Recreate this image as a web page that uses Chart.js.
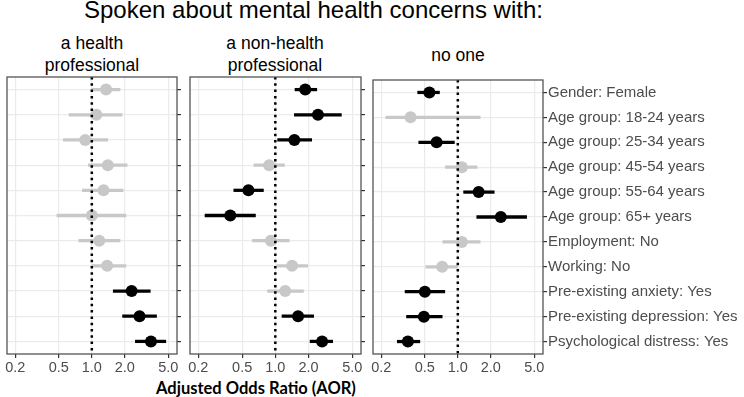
<!DOCTYPE html>
<html>
<head>
<meta charset="utf-8">
<script src="https://cdn.jsdelivr.net/npm/chart.js@4.4.0/dist/chart.umd.min.js"></script>
<style>
  body { margin: 0; background: #fff; width: 744px; height: 397px; overflow: hidden; position: relative;
         font-family: "Liberation Sans", Arial, sans-serif; }
  .txt { position: absolute; text-align: center; color: #000; white-space: nowrap; }
  canvas { position: absolute; }
</style>
</head>
<body>
<div class="txt" id="mainTitle" style="left:84px;width:400px;top:-2px;font-size:24px;line-height:24px;">Spoken about mental health concerns with:</div>
<div class="txt" style="left:2px;width:180px;top:32px;font-size:17.5px;line-height:22px;">a health<br>professional</div>
<div class="txt" style="left:185px;width:180px;top:32px;font-size:17.5px;line-height:22px;">a non-health<br>professional</div>
<div class="txt" style="left:368px;width:180px;top:44px;font-size:17.5px;line-height:22px;">no one</div>
<div class="txt" style="left:156px;width:200px;top:378px;font-size:16.5px;line-height:20px;font-family:Lato,'Open Sans',sans-serif;font-weight:bold;">Adjusted Odds Ratio (AOR)</div>

<canvas id="c1" width="185" height="304" style="left:0px;top:70px;width:185px;height:304px"></canvas>
<canvas id="c2" width="186" height="304" style="left:183px;top:70px;width:186px;height:304px"></canvas>
<canvas id="c3" width="378" height="304" style="left:366px;top:70px;width:378px;height:304px"></canvas>

<script>
// categories (top to bottom)
const categories = [
    'Gender: Female',
    'Age group: 18-24 years',
    'Age group: 25-34 years',
    'Age group: 45-54 years',
    'Age group: 55-64 years',
    'Age group: 65+ years',
    'Employment: No',
    'Working: No',
    'Pre-existing anxiety: Yes',
    'Pre-existing depression: Yes',
    'Psychological distress: Yes'
];

// x axis ticks (log scale)
const xTicks = [0.2, 0.5, 1, 2, 5];

// a health professional
const healthAor  = [1.35, 1.10, 0.87, 1.40, 1.28, 1.00, 1.17, 1.38, 2.31, 2.73, 3.47];
const healthLow  = [1.00, 0.62, 0.55, 0.93, 0.82, 0.48, 0.76, 1.00, 1.57, 1.91, 2.50];
const healthHigh = [1.81, 1.89, 1.40, 2.10, 1.93, 2.05, 1.81, 2.05, 3.42, 3.90, 4.74];
const healthSig  = [false, false, false, false, false, false, false, false, true, true, true];

// a non-health professional
const nonHealthAor  = [1.87, 2.44, 1.49, 0.88, 0.57, 0.39, 0.91, 1.42, 1.23, 1.61, 2.66];
const nonHealthLow  = [1.51, 1.49, 1.05, 0.64, 0.42, 0.23, 0.62, 1.03, 0.85, 1.15, 2.07];
const nonHealthHigh = [2.38, 3.98, 2.14, 1.21, 0.78, 0.66, 1.34, 1.97, 1.80, 2.23, 3.32];
const nonHealthSig  = [true, true, true, false, true, true, false, false, false, true, true];

// no one
const noOneAor  = [0.55, 0.37, 0.64, 1.09, 1.55, 2.47, 1.09, 0.72, 0.50, 0.49, 0.35];
const noOneLow  = [0.43, 0.22, 0.44, 0.77, 1.13, 1.49, 0.73, 0.51, 0.33, 0.34, 0.28];
const noOneHigh = [0.68, 1.60, 0.93, 1.50, 2.15, 4.25, 1.60, 0.99, 0.76, 0.72, 0.45];
const noOneSig  = [true, false, true, false, true, true, false, false, true, true, true];

const BLACK = '#000000';
const GREY = '#c8c8c8';

// panel border + dotted reference line at AOR = 1
const panelDeco = {
    id: 'panelDeco',
    afterDatasetsDraw(chart) {
        const {ctx, chartArea: a, scales} = chart;
        const x1 = scales.x.getPixelForValue(1);
        ctx.save();
        ctx.strokeStyle = '#000';
        ctx.lineWidth = 2.5;
        ctx.setLineDash([2.5, 3.8]);
        ctx.beginPath();
        ctx.moveTo(x1, a.top);
        ctx.lineTo(x1, a.bottom);
        ctx.stroke();
        ctx.setLineDash([]);
        ctx.strokeStyle = '#555';
        ctx.lineWidth = 1.3;
        ctx.strokeRect(a.left, a.top, a.right - a.left, a.bottom - a.top);
        ctx.restore();
    }
};

function makePanel(id, est, low, high, sig, showLabels) {
    let colors = sig.map(s => s ? BLACK : GREY);

    let data = {
        labels: categories,
        datasets: [{
            type: 'bar',
            indexAxis: 'y',
            data: low.map((l, i) => [l, high[i]]),
            backgroundColor: colors,
            barThickness: 2.6,
            borderSkipped: false,
            order: 2
        }, {
            type: 'line',
            indexAxis: 'y',
            data: est,
            showLine: false,
            pointRadius: 6,
            pointBackgroundColor: colors,
            pointBorderWidth: 0,
            order: 1
        }]
    };

    let config = {
        type: 'bar',
        data: data,
        options: {
            indexAxis: 'y',
            responsive: false,
            animation: false,
            layout: {padding: {left: 7, top: 7, right: 0, bottom: 0}},
            plugins: {
                legend: {display: false},
                tooltip: {enabled: false}
            },
            scales: {
                x: {
                    type: 'logarithmic',
                    min: 0.168,
                    max: 6.0,
                    afterBuildTicks: s => { s.ticks = xTicks.map(v => ({value: v})); },
                    afterFit: s => { s.height = 20; },
                    ticks: {
                        callback: v => Number(v).toFixed(1),
                        color: '#4d4d4d',
                        font: {family: 'Liberation Sans', size: 14.5},
                        maxRotation: 0,
                        autoSkip: false,
                        padding: 1
                    },
                    grid: {color: '#ebebeb', lineWidth: 1.2, tickLength: 4, tickColor: '#333', tickWidth: 1.2},
                    border: {display: false}
                },
                y: {
                    type: 'category',
                    position: 'right',
                    offset: true,
                    afterFit: s => { s.width = showLabels ? 201 : 8; },
                    ticks: {
                        display: showLabels,
                        color: '#4d4d4d',
                        font: {family: 'Liberation Sans', size: 15},
                        padding: 1,
                        autoSkip: false
                    },
                    grid: {offset: false, color: '#ebebeb', lineWidth: 1.2, tickLength: 4, tickColor: '#333', tickWidth: 1.2},
                    border: {display: false}
                }
            }
        },
        plugins: [panelDeco]
    };

    return new Chart(document.getElementById(id), config);
}

makePanel('c1', healthAor, healthLow, healthHigh, healthSig, false);
makePanel('c2', nonHealthAor, nonHealthLow, nonHealthHigh, nonHealthSig, false);
makePanel('c3', noOneAor, noOneLow, noOneHigh, noOneSig, true);
</script>
</body>
</html>
